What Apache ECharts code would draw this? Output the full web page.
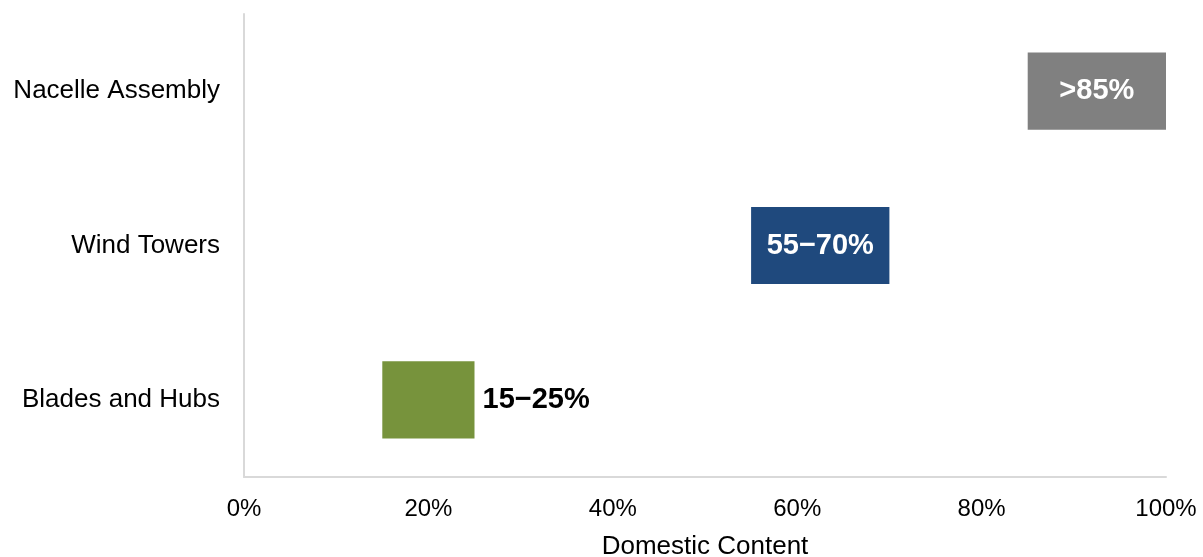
<!DOCTYPE html>
<html>
<head>
<meta charset="utf-8">
<script src="https://cdn.jsdelivr.net/npm/echarts@6/dist/echarts.min.js"></script>
<style>
  html, body { margin: 0; padding: 0; background: #fff; }
  #chart { width: 1203px; height: 557px; }
</style>
</head>
<body>
<div id="chart"></div>
<script>
// Domestic content ranges by wind component
const categories = ['Nacelle Assembly', 'Wind Towers', 'Blades and Hubs'];
const lowValues = [85, 55, 15];
const highValues = [100, 70, 25];
const rangeLabels = ['>85%', '55\u221270%', '15\u221225%'];
const barColors = ['#808080', '#1F497D', '#77933C'];
const xTicks = [0, 20, 40, 60, 80, 100];

const FONT = '"Liberation Sans", Arial, sans-serif';

const chart = echarts.init(document.getElementById('chart'));

chart.setOption({
  animation: false,
  grid: { left: 244, right: 37, top: 14, bottom: 80, containLabel: false, outerBoundsMode: 'none' },
  xAxis: {
    type: 'value',
    min: xTicks[0],
    max: xTicks[xTicks.length - 1],
    interval: xTicks[1] - xTicks[0],
    name: 'Domestic Content',
    nameLocation: 'middle',
    nameGap: 57,
    nameTextStyle: { fontFamily: FONT, fontSize: 26, color: '#000' },
    axisLine: { show: true, lineStyle: { color: '#d9d9d9', width: 2 } },
    axisTick: { show: false },
    splitLine: { show: false },
    axisLabel: {
      fontFamily: FONT, fontSize: 24, color: '#000', margin: 20,
      formatter: v => v + '%'
    }
  },
  yAxis: {
    type: 'category',
    data: categories,
    inverse: true,
    axisLine: { show: true, lineStyle: { color: '#d9d9d9', width: 2 } },
    axisTick: { show: false },
    axisLabel: { fontFamily: FONT, fontSize: 26, color: '#000', margin: 24 }
  },
  series: [
    {
      type: 'bar',
      stack: 'range',
      barWidth: '50%',
      silent: true,
      itemStyle: { color: 'transparent' },
      data: lowValues
    },
    {
      type: 'bar',
      stack: 'range',
      barWidth: '50%',
      data: highValues.map((h, i) => ({
        value: h - lowValues[i],
        itemStyle: { color: barColors[i] },
        label: i === 2
          ? { position: 'right', color: '#000', distance: 8 }
          : { position: 'inside', color: '#fff' }
      })),
      label: {
        show: true,
        fontFamily: FONT,
        fontSize: 29,
        fontWeight: 'bold',
        formatter: p => rangeLabels[p.dataIndex]
      }
    }
  ]
});
</script>
</body>
</html>
